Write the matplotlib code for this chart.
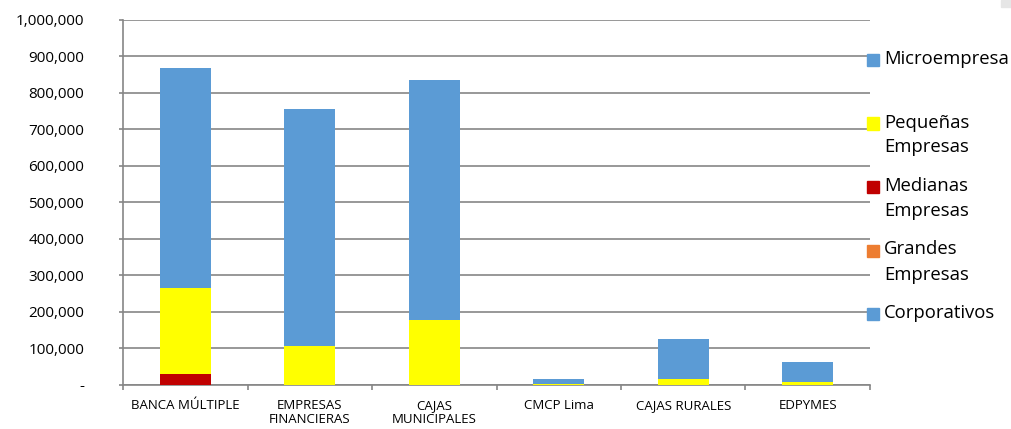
import numpy as np
import matplotlib
matplotlib.use("Agg")
import matplotlib.pyplot as plt
from matplotlib.ticker import FuncFormatter
from matplotlib.patches import Rectangle

plt.rcParams['font.family'] = ['Open Sans', 'DejaVu Sans']

# --------------------- Data ------------------------
categorias = ["BANCA MÚLTIPLE", "EMPRESAS\nFINANCIERAS", "CAJAS\nMUNICIPALES",
              "CMCP Lima", "CAJAS RURALES", "EDPYMES"]

corporativos = [0, 0, 0, 0, 0, 0]
grandes      = [0, 0, 0, 0, 0, 0]
medianas     = [30000, 0, 0, 0, 0, 0]
pequenas     = [236000, 107000, 178000, 2000, 16000, 7000]
micro        = [602000, 649000, 658000, 14000, 110000, 57000]

series = [
    ("Corporativos", corporativos, "#5B9BD5"),
    ("Grandes\nEmpresas", grandes, "#ED7D31"),
    ("Medianas\nEmpresas", medianas, "#C00000"),
    ("Pequeñas\nEmpresas", pequenas, "#FFFF00"),
    ("Microempresa", micro, "#5B9BD5"),
]

# --------------------- Plot ------------------------
fig = plt.figure(figsize=(10.11, 4.29), dpi=100)
ax = fig.add_axes([0.1217, 0.1026, 0.7388, 0.8508])

x = np.arange(len(categorias))
base = np.zeros(len(categorias))
for name, vals, col in series:
    ax.bar(x, vals, width=0.41, bottom=base, color=col, zorder=3)
    base += np.array(vals)

ax.set_xlim(-0.5, len(categorias) - 0.5)
ax.set_ylim(0, 1000000)
ax.set_yticks(np.arange(0, 1000001, 100000))
ax.yaxis.set_major_formatter(FuncFormatter(lambda v, p: "-" if v == 0 else f"{v:,.0f}"))

ax.set_xticks(x)
ax.set_xticklabels(categorias, fontsize=9.5, linespacing=1.1)
ax.set_xticks(np.arange(-0.5, len(categorias), 1), minor=True)
ax.tick_params(axis='x', which='major', length=0, pad=10)
ax.tick_params(axis='x', which='minor', length=3.6, width=1.2, color="#868686", direction='out')
ax.tick_params(axis='y', length=3, width=1.2, color="#868686", labelsize=11, pad=25)

ax.grid(axis='y', color="#868686", linewidth=1.2, zorder=0)
for s in ['top', 'right']:
    ax.spines[s].set_visible(False)
for s in ['left', 'bottom']:
    ax.spines[s].set_color("#868686")
    ax.spines[s].set_linewidth(1.2)

# legend, one slot per series, first line beside the marker
W, H = 1011, 429
for i, (name, vals, col) in enumerate(series[::-1]):
    yc = 60 + 63.5 * i
    fig.patches.append(Rectangle((867 / W, 1 - (yc + 6) / H), 12 / W, 12 / H,
                                 transform=fig.transFigure, color=col, zorder=5))
    fig.text(884 / W, 1 - (yc - 10) / H, name, fontsize=13.3, va='top', ha='left',
             linespacing=1.5)

fig.patches.append(Rectangle((1001 / W, 1 - 7 / H), 10 / W, 7 / H,
                             transform=fig.transFigure, color="#E6E6E6"))

fig.savefig("out.png", dpi=100)
